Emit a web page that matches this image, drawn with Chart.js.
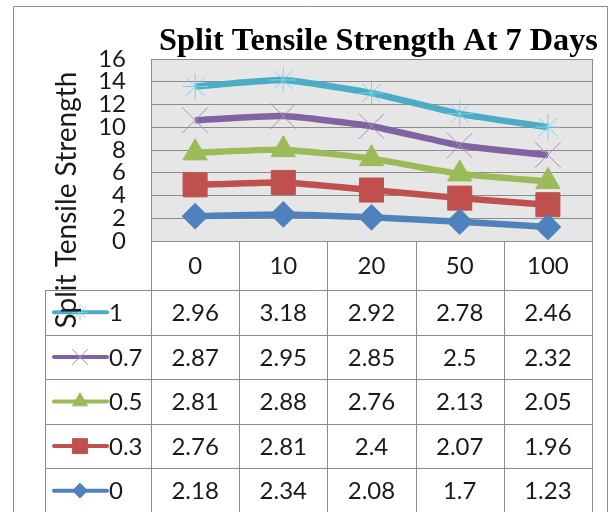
<!DOCTYPE html>
<html>
<head>
<meta charset="utf-8">
<script src="https://cdn.jsdelivr.net/npm/chart.js@4"></script>
<style>
  html, body { margin: 0; padding: 0; background: #fff; }
  #wrap { width: 611px; height: 512px; }
</style>
</head>
<body>
<div id="wrap"><canvas id="grafik" width="611" height="512"></canvas></div>
<script>
// data
var categories = ['0', '10', '20', '50', '100'];
var seriesNames = ['0', '0.3', '0.5', '0.7', '1'];
var s0  = [2.18, 2.34, 2.08, 1.7, 1.23];
var s03 = [2.76, 2.81, 2.4, 2.07, 1.96];
var s05 = [2.81, 2.88, 2.76, 2.13, 2.05];
var s07 = [2.87, 2.95, 2.85, 2.5, 2.32];
var s1  = [2.96, 3.18, 2.92, 2.78, 2.46];
var yTicks = [0, 2, 4, 6, 8, 10, 12, 14, 16];
var chartTitle = 'Split Tensile Strength At 7 Days';
var yTitle = 'Split Tensile Strength';

var seriesData = [s0, s03, s05, s07, s1];
var colors = ['#4F81BD', '#C0504D', '#9BBB59', '#8064A2', '#4BACC6'];
var markerColors = ['#4F81BD', '#C0504D', '#9BBB59', '#A48FC2', '#7FD0E6'];
var markers = ['rectRot', 'rect', 'triangle', 'crossRot', 'star'];
var radii = [12, 17, 14, 18, 13];
var markerBorder = [2, 1, 1, 1, 1];

var FONT = 'Lato, Calibri, sans-serif';
var gridGray = '#8c8c8c';
var textCol = '#1a1a1a';

// table, titles drawn around the plot
var tablePlugin = {
  id: 'dataTable',
  afterDraw: function(chart) {
    var ctx = chart.ctx;
    var area = chart.chartArea;
    var xs = chart.scales.x;
    var colW = (area.right - area.left) / categories.length;
    var headTop = area.bottom, headBot = area.bottom + 49;
    var rowH = 44.6;
    var legendLeft = 45;
    ctx.save();
    ctx.strokeStyle = gridGray;
    ctx.lineWidth = 1;
    // outer chart border
    ctx.beginPath();
    ctx.moveTo(13.5, 520); ctx.lineTo(13.5, 6.5); ctx.lineTo(607.5, 6.5); ctx.lineTo(607.5, 520);
    ctx.stroke();
    // title
    ctx.fillStyle = '#000';
    ctx.font = 'bold 32.3px "Liberation Serif", "Times New Roman", serif';
    ctx.textAlign = 'center';
    ctx.textBaseline = 'alphabetic';
    ctx.fillText(chartTitle, (area.left + area.right) / 2 + 7, 50);
    // column lines
    for (var i = 0; i <= categories.length; i++) {
      var x = Math.round(area.left + i * colW) + 0.5;
      ctx.beginPath(); ctx.moveTo(x, headTop); ctx.lineTo(x, 520); ctx.stroke();
    }
    ctx.beginPath(); ctx.moveTo(legendLeft + 0.5, headBot); ctx.lineTo(legendLeft + 0.5, 520); ctx.stroke();
    // row lines
    for (var r = 0; r <= seriesNames.length; r++) {
      var y = Math.round(headBot + r * rowH) + 0.5;
      ctx.beginPath(); ctx.moveTo(legendLeft, y); ctx.lineTo(area.right, y); ctx.stroke();
    }
    // header labels
    ctx.fillStyle = textCol;
    ctx.font = '24px ' + FONT;
    ctx.textAlign = 'center';
    ctx.textBaseline = 'middle';
    categories.forEach(function(c, i) {
      ctx.fillText(c, xs.getPixelForValue(i), (headTop + headBot) / 2 + 1);
    });
    // rows, top row is the last series
    for (var r = 0; r < seriesNames.length; r++) {
      var k = seriesNames.length - 1 - r;
      var cy = headBot + r * rowH + rowH / 2;
      ctx.font = '24px ' + FONT;
      ctx.fillStyle = textCol;
      ctx.textAlign = 'center';
      seriesData[k].forEach(function(v, i) {
        ctx.fillText(String(v), xs.getPixelForValue(i), cy + 1);
      });
      // legend key
      ctx.strokeStyle = colors[k];
      ctx.lineWidth = 4;
      ctx.lineCap = 'round';
      ctx.beginPath(); ctx.moveTo(54, cy); ctx.lineTo(107, cy); ctx.stroke();
      ctx.lineCap = 'butt';
      ctx.fillStyle = colors[k];
      ctx.strokeStyle = markerColors[k];
      ctx.lineWidth = 1;
      Chart.helpers.drawPoint(ctx, {
        pointStyle: markers[k], radius: radii[k] * 0.62, borderWidth: 1, rotation: 0
      }, 80, cy);
      ctx.fillStyle = textCol;
      ctx.textAlign = 'left';
      ctx.font = '24px ' + FONT;
      ctx.fillText(seriesNames[k], 109, cy + 1);
      ctx.strokeStyle = gridGray;
      ctx.lineWidth = 1;
    }
    // y axis title
    ctx.save();
    ctx.translate(67, 200);
    ctx.rotate(-Math.PI / 2);
    ctx.fillStyle = textCol;
    ctx.textAlign = 'center';
    ctx.textBaseline = 'middle';
    ctx.font = '28px ' + FONT;
    ctx.fillText(yTitle, 0, 0);
    ctx.restore();
    ctx.restore();
  }
};

var plotBg = {
  id: 'plotBg',
  beforeDraw: function(chart) {
    var a = chart.chartArea, ctx = chart.ctx;
    ctx.save();
    ctx.fillStyle = '#e6e6e6';
    ctx.fillRect(a.left, a.top, a.right - a.left, a.bottom - a.top);
    ctx.restore();
  },
  afterDatasetsDraw: function(chart) {
    var a = chart.chartArea, ctx = chart.ctx;
    ctx.save();
    ctx.strokeStyle = gridGray;
    ctx.lineWidth = 1;
    ctx.strokeRect(Math.round(a.left) + 0.5, Math.round(a.top) + 0.5, Math.round(a.right - a.left), Math.round(a.bottom - a.top));
    ctx.restore();
  }
};

var datasets = seriesData.map(function(d, i) {
  return {
    label: seriesNames[i],
    data: d,
    borderColor: colors[i],
    backgroundColor: colors[i],
    pointBackgroundColor: colors[i],
    pointBorderColor: markerColors[i],
    pointStyle: markers[i],
    pointRadius: radii[i],
    pointBorderWidth: markerBorder[i],
    borderWidth: 6.5,
    tension: 0.15,
    fill: false
  };
});

new Chart(document.getElementById('grafik'), {
  type: 'line',
  data: { labels: categories, datasets: datasets },
  plugins: [plotBg, tablePlugin],
  options: {
    responsive: false,
    animation: false,
    layout: { padding: { left: 0, right: 4, top: 59, bottom: 271 } },
    plugins: {
      legend: { display: false },
      tooltip: { enabled: false },
      title: { display: false }
    },
    scales: {
      x: {
        display: false,
        offset: true
      },
      y: {
        stacked: true,
        min: 0,
        max: 16,
        afterFit: function(scale) { scale.width = 151; },
        afterBuildTicks: function(scale) { scale.ticks = yTicks.map(function(v) { return {value: v}; }); },
        ticks: {
          color: textCol,
          padding: 25,
          autoSkip: false,
          font: { family: FONT, size: 24 }
        },
        grid: { color: gridGray, drawTicks: false },
        border: { color: gridGray }
      }
    }
  }
});
</script>
</body>
</html>
